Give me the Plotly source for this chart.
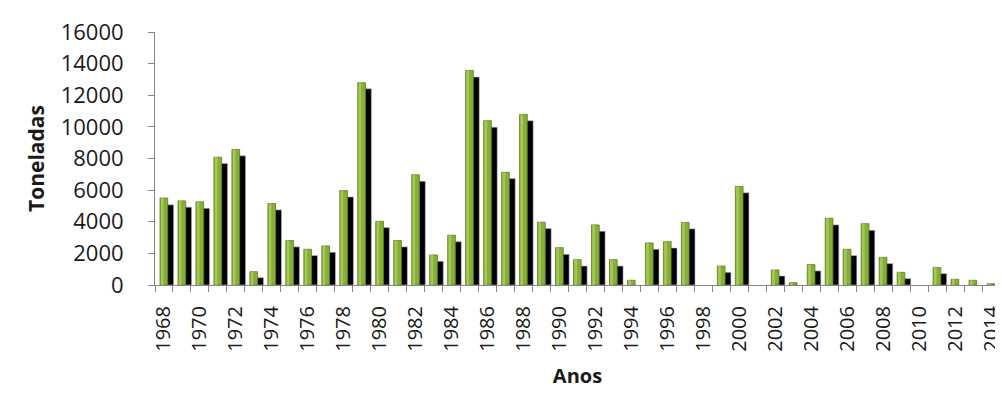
import plotly.graph_objects as go

years = list(range(1968, 2015))
green_values = [5500, 5320, 5260, 8080, 8570, 840, 5150, 2810, 2260, 2470,
                5970, 12790, 4030, 2810, 6970, 1900, 3150, 13570, 10390, 7130,
                10790, 3970, 2360, 1600, 3800, 1600, 300, 2660, 2740, 3950,
                0, 1200, 6230, 0, 950, 150, 1290, 4220, 2260, 3880,
                1750, 800, 0, 1100, 360, 300, 80]
black_values = [5070, 4920, 4850, 7680, 8170, 460, 4750, 2410, 1860, 2070,
                5570, 12410, 3630, 2410, 6560, 1500, 2740, 13150, 9980, 6730,
                10390, 3570, 1940, 1200, 3400, 1200, 0, 2260, 2340, 3550,
                0, 800, 5830, 0, 570, 0, 890, 3800, 1860, 3460,
                1350, 400, 0, 720, 0, 0, 0]
label_years = list(range(1968, 2015, 2))
y_ticks = list(range(0, 16001, 2000))

font_family = "Open Sans"
axis_grey = "#868686"


def drop_zero(vals):
    return [v if v > 0 else None for v in vals]


fig = go.Figure()
fig.add_trace(go.Bar(
    x=years, y=drop_zero(black_values), offset=0.10, width=0.435,
    marker=dict(color="#000000", line=dict(color="#b8b8b8", width=0.6)),
    name="sombra", hoverinfo="skip"))
fig.add_trace(go.Bar(
    x=years, y=drop_zero(green_values), offset=-0.222, width=0.43,
    marker=dict(color="#86ae38", line=dict(color="#5e7d20", width=0.8)),
    name="Toneladas"))
fig.add_trace(go.Bar(
    x=years, y=drop_zero(green_values), offset=-0.17, width=0.14,
    marker=dict(color="#a2ca55", line=dict(width=0)),
    hoverinfo="skip", name="brilho"))

fig.update_layout(
    width=1003, height=393,
    margin=dict(l=147, r=11, t=24, b=116, autoexpand=False),
    barmode="overlay",
    showlegend=False,
    plot_bgcolor="white", paper_bgcolor="white",
    font=dict(family=font_family, color="#1a1a1a"),
)
fig.update_xaxes(
    range=[1967.5, 2014.5],
    tickmode="array", tickvals=label_years,
    ticktext=[str(y) for y in label_years],
    tickangle=-90, ticks="", ticklabelstandoff=12,
    tickfont=dict(size=20, family=font_family, color="#1a1a1a"),
    minor=dict(tickmode="linear", tick0=1967.5, dtick=1, ticks="outside",
               ticklen=6, tickcolor=axis_grey, tickwidth=1, showgrid=False),
    showline=True, linecolor=axis_grey, linewidth=1,
    showgrid=False, zeroline=False, automargin=False,
    title=dict(text="<b>Anos</b>", font=dict(size=20, family=font_family), standoff=18),
)
fig.update_yaxes(
    range=[0, 16000],
    tickmode="array", tickvals=y_ticks, ticktext=[str(v) for v in y_ticks],
    ticks="outside", ticklen=6, tickcolor=axis_grey, ticklabelstandoff=20,
    tickfont=dict(size=22, family=font_family, color="#1a1a1a"),
    showline=True, linecolor=axis_grey, linewidth=1,
    showgrid=False, zeroline=False, automargin=False,
    title=dict(text="<b>Toneladas</b>", font=dict(size=21, family=font_family), standoff=10),
)

fig.write_html("out.html")
